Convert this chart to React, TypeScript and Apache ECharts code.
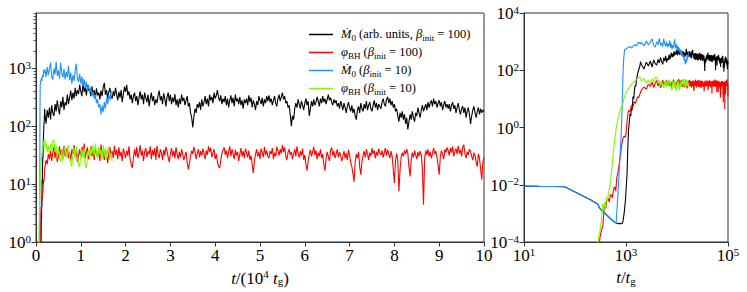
import React, { useEffect, useRef } from 'react';
import * as echarts from 'echarts';

const FONT = 'Liberation Serif';

// Series names (legend order)
const NAMES = ['mdot100', 'phi100', 'mdot10', 'phi10'];
const COLORS = ['#000000', '#ff0000', '#1e90ff', '#7cfc00'];

// ---- Early evolution: explicit (t / t_g, value) pairs ----
const BLACK_EARLY_T = [10, 20, 40, 63, 100, 150, 200, 282, 300, 330, 400, 500, 600, 640, 700, 800, 850, 880, 930, 975, 1010, 1050, 1080, 1120, 1160, 1200, 1240, 1280, 1320, 1370, 1420, 1470, 1520, 1560, 1600, 1650, 1700, 1760, 1820, 1860, 1930];
const BLACK_EARLY_V = [0.009, 0.0088, 0.0087, 0.0085, 0.0056, 0.0039, 0.003, 0.0021, 0.0016, 0.0013, 0.00095, 0.00065, 0.00049, 0.00046, 0.00044, 0.00044, 0.00046, 0.00058, 0.0012, 0.0029, 0.008, 0.025, 0.15, 0.8, 1.5, 3, 2.5, 5, 4, 12, 10, 22, 30, 28, 46, 60, 80, 100, 120, 135, 200];

const RED_EARLY_T = [290, 310, 330, 350, 370, 380, 400, 420, 445, 470, 490, 515, 540, 570, 600, 630, 660, 690, 720, 750, 780, 810, 840, 870, 920, 970, 1000, 1060, 1120, 1200, 1280, 1370, 1450, 1530, 1600, 1700, 1780, 1860, 1930];
const RED_EARLY_V = [0.00005, 0.00015, 0.00026, 0.00034, 0.0012, 0.0022, 0.0015, 0.0028, 0.0033, 0.0025, 0.0045, 0.0044, 0.0035, 0.007, 0.0085, 0.006, 0.018, 0.025, 0.04, 0.07, 0.1, 0.21, 0.3, 0.41, 0.5, 0.45, 0.6, 2, 4, 3.5, 6, 5.3, 8, 7, 9, 12, 11, 14, 17];

const BLUE_EARLY_T = [10, 20, 40, 63, 100, 150, 200, 282, 300, 330, 400, 500, 600, 640, 690, 720, 750, 780, 810, 840, 870, 900, 940, 1000, 1100, 1200, 1300, 1400, 1500, 1600, 1700, 1800, 1900];
const BLUE_EARLY_V = [0.009, 0.0088, 0.0087, 0.0085, 0.0056, 0.0039, 0.003, 0.0021, 0.0016, 0.0013, 0.00095, 0.00065, 0.00049, 0.00047, 0.0038, 0.015, 0.057, 0.2, 0.8, 5, 60, 250, 510, 560, 620, 680, 600, 720, 780, 700, 880, 950, 820];

const GREEN_EARLY_T = [270, 290, 310, 330, 350, 365, 380, 395, 410, 430, 450, 480, 510, 540, 570, 600, 640, 690, 720, 750, 800, 870, 930, 1000, 1100, 1260, 1400, 1600, 1750, 1860, 1950];
const GREEN_EARLY_V = [0.00005, 0.00015, 0.00026, 0.00057, 0.0022, 0.0013, 0.0025, 0.0016, 0.0035, 0.0028, 0.005, 0.0085, 0.02, 0.056, 0.15, 0.36, 0.9, 1.8, 2.5, 3.5, 5, 7, 11, 16, 22, 31, 38, 46, 55, 60, 45];

// ---- Later evolution: regular sampling in t (from t = 2000 t_g) ----
const LATE_T0 = 2000;
const BLACK_LATE_DT = 250;
const BLACK_LATE_V = [
  160, 110, 190, 140, 210, 130, 230, 170, 150, 240, 180, 280, 200, 160, 270, 210, 320, 190, 260, 230,
  350, 240, 310, 410, 280, 380, 300, 460, 330, 420, 360, 520, 400, 330, 560, 390, 470, 340, 510, 410,
  440, 330, 490, 360, 420, 300, 450, 340, 380, 290, 410, 330, 470, 560, 350, 420, 300, 390, 460, 320,
  300, 400, 330, 460, 350, 280, 390, 310, 420, 260, 360, 480, 390, 520, 340, 400, 290, 350, 250, 330,
  380, 270, 330, 230, 310, 400, 290, 350, 240, 380, 310, 260, 350, 220, 300, 380, 270, 330, 230, 290,
  250, 340, 410, 280, 330, 240, 370, 300, 220, 320, 380, 270, 350, 240, 310, 260, 360, 230, 290, 210,
  300, 240, 350, 270, 310, 230, 280, 330, 220, 250, 170, 140, 95, 150, 200, 170, 240, 210, 260, 190,
  290, 220, 260, 330, 240, 300, 220, 350, 280, 320, 250, 380, 300, 340, 420, 310, 270, 340, 240, 300,
  260, 330, 230, 300, 210, 280, 340, 250, 310, 220, 350, 270, 300, 240, 320, 230, 280, 200, 290, 250,
  300, 230, 340, 260, 310, 210, 280, 240, 190, 270, 230, 330, 280, 240, 310, 220, 290, 250, 330, 270,
  340, 260, 300, 230, 280, 330, 250, 220, 300, 350, 270, 320, 380, 290, 330, 250, 270, 210, 230, 160,
  100, 150, 130, 200, 250, 210, 290, 240, 200, 270, 230, 190, 250, 300, 230, 270, 150, 200, 270, 220,
  290, 230, 260, 320, 270, 220, 300, 250, 330, 260, 300, 240, 290, 350, 280, 310, 260, 230, 290, 250,
  280, 220, 250, 200, 270, 230, 190, 250, 210, 170, 220, 260, 210, 180, 230, 170, 200, 150, 130, 190,
  220, 170, 250, 200, 180, 240, 200, 270, 190, 230, 260, 200, 180, 230, 280, 210, 250, 190, 240, 220,
  200, 260, 300, 240, 220, 290, 320, 250, 300, 230, 270, 210, 240, 180, 200, 150, 120, 170, 140, 180,
  130, 160, 110, 140, 88, 120, 160, 130, 180, 140, 120, 170, 150, 210, 170, 140, 190, 230, 180, 210,
  240, 190, 260, 210, 250, 280, 220, 300, 240, 270, 210, 250, 280, 220, 260, 190, 230, 270, 210, 240,
  200, 240, 180, 230, 260, 200, 230, 170, 210, 250, 190, 160, 200, 220, 170, 210, 140, 180, 210, 160,
  108, 150, 190, 220, 170, 140, 180, 210, 160, 200, 170, 190, 180,
];
const RED_LATE_DT = 250;
const RED_LATE_V = [
  20, 26, 22, 33, 27, 38, 25, 35, 44, 28, 37, 24, 30, 45, 32, 40, 27, 46, 30, 38,
  42, 28, 36, 25, 40, 33, 47, 30, 38, 24, 31, 40, 29, 44, 35, 50, 28, 37, 43, 27,
  33, 45, 30, 38, 26, 42, 34, 29, 41, 25, 48, 33, 37, 26, 40, 31, 23, 35, 44, 30,
  37, 28, 46, 32, 39, 27, 43, 30, 36, 25, 41, 34, 28, 38, 31, 45, 27, 22, 19, 29,
  40, 30, 44, 28, 35, 47, 31, 38, 25, 36, 42, 29, 37, 33, 45, 27, 39, 31, 42, 26,
  46, 33, 28, 40, 35, 26, 39, 31, 44, 37, 29, 24, 34, 42, 30, 38, 28, 43, 33, 27,
  36, 29, 40, 33, 26, 31, 36, 24, 18, 23, 30, 38, 33, 44, 36, 27, 34, 40, 29, 37,
  31, 41, 34, 27, 38, 32, 45, 36, 42, 29, 35, 40, 27, 33, 24, 20, 19, 26, 34, 39,
  43, 32, 38, 28, 36, 45, 30, 40, 34, 27, 39, 31, 36, 25, 33, 42, 30, 37, 28, 41,
  35, 29, 38, 26, 31, 22, 15.5, 25, 33, 40, 30, 36, 27, 41, 35, 29, 44, 32, 38, 30,
  28, 37, 33, 42, 27, 35, 30, 44, 38, 31, 40, 34, 47, 36, 43, 30, 26, 35, 40, 32,
  36, 27, 33, 40, 30, 45, 34, 29, 37, 31, 41, 26, 32, 22, 17, 25, 33, 39, 30, 36,
  44, 32, 38, 27, 35, 30, 40, 28, 33, 22, 17, 27, 36, 30, 25, 38, 43, 31, 37, 28,
  33, 40, 29, 36, 31, 25, 30, 37, 28, 34, 26, 39, 31, 24, 20, 15, 11, 24, 33, 28,
  36, 20, 14.5, 24, 31, 37, 29, 40, 33, 26, 35, 30, 42, 33, 38, 28, 36, 31, 41, 34,
  32, 38, 29, 35, 42, 31, 39, 33, 28, 37, 30, 18, 10.5, 25, 34, 26, 7.5, 17, 29, 35,
  30, 38, 33, 40, 34, 20, 13.6, 26, 35, 29, 38, 32, 27, 36, 30, 37, 32, 18, 4.4, 28,
  38, 32, 40, 30, 36, 28, 34, 42, 33, 37, 29, 21, 14.5, 30, 38, 33, 27, 40, 35, 43,
  38, 31, 42, 35, 45, 30, 37, 41, 33, 46, 34, 39, 30, 43, 48, 33, 28, 36, 32, 40,
  37, 30, 26, 35, 31, 24, 20, 33, 28, 18, 12, 24, 29,
];
const BLUE_LATE_DT = 250;
const BLUE_LATE_V = [
  950, 700, 1050, 760, 980, 1250, 720, 640, 1000, 780,
  1300, 740, 920, 660, 1250, 820, 700, 980, 640, 860,
  700, 1100, 620, 840, 540, 760, 600, 920, 1200, 660,
  580, 800, 540, 720, 480, 650, 450, 580, 410, 520,
  370, 470, 330, 390, 300, 350, 250, 290, 210, 240,
  160, 230, 175, 260, 200, 310, 240, 350, 280, 400,
  390,
];
const GREEN_LATE_DT = 250;
const GREEN_LATE_V = [
  42, 52, 36, 47, 33, 50, 38, 55, 58, 36,
  46, 28, 42, 31, 24, 40, 25, 38, 44, 28,
  40, 47, 30, 23, 20, 36, 42, 28, 45, 33,
  21, 20, 34, 40, 28, 42, 21, 19, 31, 38,
  26, 42, 33, 47, 31, 50, 34, 28, 44, 32,
  40, 26, 47, 30, 42, 28, 38, 44, 26, 35,
  25,
];

// Axis ticks
const LEFT_Y_MAJOR = [1, 10, 100, 1000];
const RIGHT_Y_MAJOR = [1e-4, 1e-2, 1, 1e2, 1e4];
const RIGHT_X_MAJOR = [10, 1e3, 1e5];

// Legend labels (rich text)
const LEGEND_TEXT: Record<string, string> = {
  mdot100: '{i|Ṁ}{sub|0}{n| (arb. units, }{i|β}{sub|init}{n| = 100)}',
  phi100: '{i|φ}{sub|BH}{n| (}{i|β}{sub|init}{n| = 100)}',
  mdot10: '{i|Ṁ}{sub|0}{n| (}{i|β}{sub|init}{n| = 10)}',
  phi10: '{i|φ}{sub|BH}{n| (}{i|β}{sub|init}{n| = 10)}',
};

function build(et: number[], ev: number[], dt: number, lv: number[]): [number, number][] {
  const out: [number, number][] = et.map((t, i) => [t, ev[i]]);
  lv.forEach((v, i) => out.push([LATE_T0 + dt * i, v]));
  return out;
}

const SERIES_DATA = [
  build(BLACK_EARLY_T, BLACK_EARLY_V, BLACK_LATE_DT, BLACK_LATE_V),
  build(RED_EARLY_T, RED_EARLY_V, RED_LATE_DT, RED_LATE_V),
  build(BLUE_EARLY_T, BLUE_EARLY_V, BLUE_LATE_DT, BLUE_LATE_V),
  build(GREEN_EARLY_T, GREEN_EARLY_V, GREEN_LATE_DT, GREEN_LATE_V),
];

const AXIS_COLOR = '#333';
const TICK_RICH = {
  b: { fontFamily: FONT, fontSize: 17, lineHeight: 18, verticalAlign: 'bottom', color: '#000' },
  s: { fontFamily: FONT, fontSize: 11, lineHeight: 11, verticalAlign: 'top', color: '#000' },
};
const powLabel = (v: number) => {
  const e = Math.round(Math.log10(v));
  const es = e < 0 ? '\u2212' + Math.abs(e) : String(e);
  return `{b|10}{s|${es}}`;
};
const TITLE_RICH = {
  i: { fontFamily: FONT, fontStyle: 'italic', fontSize: 17, lineHeight: 18, verticalAlign: 'bottom', color: '#000' },
  n: { fontFamily: FONT, fontSize: 17, lineHeight: 18, verticalAlign: 'bottom', color: '#000' },
  s: { fontFamily: FONT, fontSize: 11, lineHeight: 11, verticalAlign: 'top', color: '#000' },
  g: { fontFamily: FONT, fontSize: 11, lineHeight: 11, verticalAlign: 'bottom', color: '#000' },
};
const LEGEND_RICH = {
  i: { fontFamily: FONT, fontStyle: 'italic', fontSize: 12.5, lineHeight: 15, verticalAlign: 'top', color: '#000' },
  n: { fontFamily: FONT, fontSize: 12.5, lineHeight: 15, verticalAlign: 'top', color: '#000' },
  sub: { fontFamily: FONT, fontSize: 9, lineHeight: 9, verticalAlign: 'bottom', color: '#000' },
};

function minorTicks(lo: number, hi: number): number[] {
  const out: number[] = [];
  for (let d = lo; d < hi; d *= 10) {
    for (let k = 2; k <= 9; k++) if (k * d <= hi) out.push(k * d);
  }
  return out;
}

export default function App() {
  const ref = useRef<HTMLDivElement>(null);
  useEffect(() => {
    const chart = echarts.init(ref.current!, undefined, { renderer: 'svg', width: 747, height: 292 });
    const tick = { show: true, length: 4.5, lineStyle: { color: AXIS_COLOR, width: 1 } };
    const line = { show: true, lineStyle: { color: AXIS_COLOR, width: 1 } };
    const series: any[] = [];
    SERIES_DATA.forEach((d, k) => {
      series.push({
        type: 'line', name: NAMES[k], xAxisIndex: 0, yAxisIndex: 0,
        data: d.map(([t, v]) => [t / 1e4, v]),
        symbol: 'none', lineStyle: { color: COLORS[k], width: 1.1 }, itemStyle: { color: COLORS[k] },
        clip: true, z: 2 + k,
      });
    });
    SERIES_DATA.forEach((d, k) => {
      series.push({
        type: 'line', name: NAMES[k], xAxisIndex: 1, yAxisIndex: 2,
        data: d,
        symbol: 'none', lineStyle: { color: COLORS[k], width: 1.1 }, itemStyle: { color: COLORS[k] },
        clip: true, z: 2 + k,
      });
    });
    chart.setOption({
      animation: false,
      backgroundColor: '#fff',
      textStyle: { fontFamily: FONT },
      grid: [
        { left: 36, top: 13, width: 448, height: 229, show: true, borderColor: AXIS_COLOR, borderWidth: 1 },
        { left: 524, top: 13, width: 204, height: 229, show: true, borderColor: AXIS_COLOR, borderWidth: 1 },
      ],
      xAxis: [
        {
          type: 'value', gridIndex: 0, min: 0, max: 10, interval: 1,
          axisLine: line, axisTick: tick, splitLine: { show: false },
          axisLabel: { fontFamily: FONT, fontSize: 17, color: '#000', margin: 5 },
          name: '{i|t}{n|/(10}{s|4}{n| }{i|t}{g|g}{n|)}', nameLocation: 'middle', nameGap: 26,
          nameTextStyle: { rich: TITLE_RICH },
        },
        {
          type: 'log', gridIndex: 1, min: 10, max: 1e5,
          axisLine: line, axisTick: { ...tick, customValues: RIGHT_X_MAJOR }, splitLine: { show: false },
          axisLabel: { customValues: RIGHT_X_MAJOR, formatter: powLabel, rich: TICK_RICH, margin: 4 },
          name: '{i|t}{n|/}{i|t}{g|g}', nameLocation: 'middle', nameGap: 26,
          nameTextStyle: { rich: TITLE_RICH },
        },
      ],
      yAxis: [
        {
          type: 'log', gridIndex: 0, min: 1, max: 9000, position: 'left',
          axisLine: line, axisTick: { ...tick, customValues: LEFT_Y_MAJOR }, splitLine: { show: false },
          axisLabel: { customValues: LEFT_Y_MAJOR, formatter: powLabel, rich: TICK_RICH, margin: 5 },
        },
        {
          type: 'log', gridIndex: 0, min: 1, max: 9000, position: 'left', offset: 0,
          axisLine: { show: false },
          axisTick: { show: true, length: 2.5, lineStyle: { color: AXIS_COLOR, width: 0.8 }, customValues: minorTicks(1, 9000) },
          axisLabel: { show: false }, splitLine: { show: false },
        },
        {
          type: 'log', gridIndex: 1, min: 1e-4, max: 1e4, position: 'left',
          axisLine: line, axisTick: { ...tick, customValues: RIGHT_Y_MAJOR }, splitLine: { show: false },
          axisLabel: { customValues: RIGHT_Y_MAJOR, formatter: powLabel, rich: TICK_RICH, margin: 5 },
        },
      ],
      legend: {
        data: NAMES, orient: 'vertical', left: 304, top: 22, icon: 'rect',
        itemWidth: 24, itemHeight: 1.5, itemGap: 3, selectedMode: false,
        formatter: (name: string) => LEGEND_TEXT[name],
        textStyle: { rich: LEGEND_RICH, fontFamily: FONT, color: '#000', padding: [0, 0, 0, 3] },
      },
      series,
    });
    return () => chart.dispose();
  }, []);
  return <div ref={ref} style={{ position: 'absolute', left: 0, top: 0, width: 747, height: 292 }} />;
}
